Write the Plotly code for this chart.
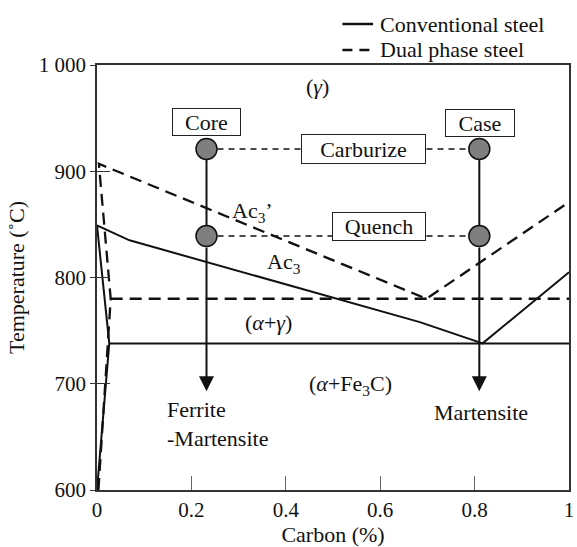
import plotly.graph_objects as go

# ---------------- data ----------------
# Conventional steel (solid): A3 / solvus polyline incl. left alpha boundary
conv_x = [0.0, 0.026, 0.0, 0.069, 0.684, 0.817, 1.0]
conv_y = [600, 738, 849, 835, 758, 738, 805]
# Conventional eutectoid horizontal
conv_eut_x = [0.026, 1.0]
conv_eut_y = [738, 738]

# Dual phase steel (dashed): Ac3' polyline incl. left boundary
dual_x = [0.003, 0.022, 0.029, 0.004, 0.698, 1.0]
dual_y = [600, 738, 780, 907, 780, 871]
# Dual phase horizontal
dual_eut_x = [0.029, 1.0]
dual_eut_y = [780, 780]

# Process points
core_x = 0.232
case_x = 0.81
carburize_T = 921
quench_T = 839
end_T = 693

# Text labels (x, y, text)
region_labels = [
    (0.467, 980, "(<i>γ</i>)"),
    (0.329, 862, "Ac<sub>3</sub>’"),
    (0.396, 814, "Ac<sub>3</sub>"),
    (0.363, 758, "(<i>α</i>+<i>γ</i>)"),
    (0.537, 699, "(<i>α</i>+Fe<sub>3</sub>C)"),
    (0.813, 673, "Martensite"),
]
left_labels = [
    (0.143, 662.5, "Ferrite<br>-Martensite"),
]
box_labels = [
    (0.232, 946, "Core", 63, 22),
    (0.812, 945, "Case", 64, 22),
    (0.565, 921, "Carburize", 119, 24),
    (0.598, 848, "Quench", 88, 23),
]
legend_names = ["Conventional steel", "Dual phase steel"]
legend_dash = ["solid", "10px,7px"]

FONT = "Liberation Serif"

fig = go.Figure()

# main lines
fig.add_trace(go.Scatter(x=conv_x, y=conv_y, mode="lines", name=legend_names[0],
                         line=dict(color="#111", width=2), showlegend=False))
fig.add_trace(go.Scatter(x=conv_eut_x, y=conv_eut_y, mode="lines",
                         line=dict(color="#111", width=2), showlegend=False))
fig.add_trace(go.Scatter(x=dual_x, y=dual_y, mode="lines", name=legend_names[1],
                         line=dict(color="#111", width=2.3, dash="12px,7px"), showlegend=False))
fig.add_trace(go.Scatter(x=dual_eut_x, y=dual_eut_y, mode="lines",
                         line=dict(color="#111", width=2.3, dash="12px,7px"), showlegend=False))

# process dotted lines
for T in (carburize_T, quench_T):
    fig.add_trace(go.Scatter(x=[core_x, case_x], y=[T, T], mode="lines",
                             line=dict(color="#111", width=1.6, dash="6px,5px"),
                             showlegend=False, hoverinfo="skip"))
# vertical segments between circles
for cx in (core_x, case_x):
    fig.add_trace(go.Scatter(x=[cx, cx], y=[carburize_T, quench_T], mode="lines",
                             line=dict(color="#111", width=2), showlegend=False))
# circles
fig.add_trace(go.Scatter(x=[core_x, core_x, case_x, case_x],
                         y=[carburize_T, quench_T, carburize_T, quench_T],
                         mode="markers",
                         marker=dict(size=21, color="#7f7f7f", line=dict(color="#111", width=1.5)),
                         showlegend=False))
# dummy trace for overlay axis
fig.add_trace(go.Scatter(x=[None], y=[None], yaxis="y2", showlegend=False))

ann = []
for cx in (core_x, case_x):
    ann.append(dict(x=cx, y=end_T, ax=cx, ay=quench_T, xref="x", yref="y",
                    axref="x", ayref="y", showarrow=True, arrowhead=2,
                    arrowwidth=2, arrowsize=1.5, arrowcolor="#111",
                    startstandoff=10, text=""))
for x, y, t in region_labels:
    ann.append(dict(x=x, y=y, text=t, showarrow=False, xref="x", yref="y",
                    font=dict(family=FONT, size=22, color="#111")))
for x, y, t in left_labels:
    ann.append(dict(x=x, y=y, text=t, showarrow=False, xref="x", yref="y",
                    xanchor="left", align="left",
                    font=dict(family=FONT, size=22, color="#111")))
for x, y, t, w, h in box_labels:
    ann.append(dict(x=x, y=y, text=t, showarrow=False, xref="x", yref="y",
                    width=w, height=h, bgcolor="white", bordercolor="#222",
                    borderwidth=1, borderpad=2,
                    font=dict(family=FONT, size=22, color="#111")))

# legend built from shapes + text (paper coordinates)
shapes = []
legend_rows_px = [24, 50]   # pixel rows from top of figure
plot_top, plot_h = 65, 425
plot_left, plot_w = 97, 477
for name, dash, row in zip(legend_names, legend_dash, legend_rows_px):
    yp = 1 + (plot_top - row) / plot_h
    shapes.append(dict(type="line", xref="paper", yref="paper",
                       x0=(345 - plot_left) / plot_w, x1=(376 - plot_left) / plot_w,
                       y0=yp, y1=yp, line=dict(color="#111", width=2.5, dash=dash)))
    ann.append(dict(x=(381 - plot_left) / plot_w, y=yp, xref="paper", yref="paper",
                    xanchor="left", yanchor="middle", text=name, showarrow=False,
                    font=dict(family=FONT, size=22, color="#111")))

x_ticks = [0, 0.2, 0.4, 0.6, 0.8, 1]
x_ticktext = ["0", "0.2", "0.4", "0.6", "0.8", "1"]
y_ticks = [600, 700, 800, 900, 1000]
y_ticktext = ["600", "700", "800", "900", "1 000"]

fig.update_layout(
    width=577, height=547,
    margin=dict(l=97, r=3, t=65, b=57),
    paper_bgcolor="white", plot_bgcolor="white",
    font=dict(family=FONT, size=22, color="#111"),
    annotations=ann,
    shapes=shapes,
    showlegend=False,
    xaxis=dict(range=[0, 1], tickvals=x_ticks, ticktext=x_ticktext,
               ticks="inside", ticklen=14, tickcolor="#666", tickwidth=1.2,
               showline=True, linecolor="#333", linewidth=1.5, mirror=True,
               showgrid=False, zeroline=False, ticklabeloverflow="allow",
               tickfont=dict(family=FONT, size=21, color="#111"),
               title=dict(text="Carbon (%)", font=dict(family=FONT, size=22), standoff=6)),
    yaxis=dict(range=[600, 1000], tickvals=y_ticks, ticktext=y_ticktext,
               ticks="outside", ticklen=5, tickcolor="#333", tickwidth=1.2,
               showline=True, linecolor="#333", linewidth=1.5, mirror=True,
               showgrid=False, zeroline=False,
               tickfont=dict(family=FONT, size=21, color="#111"),
               title=dict(text="Temperature (˚C)", font=dict(family=FONT, size=22), standoff=8)),
    yaxis2=dict(range=[600, 1000], overlaying="y", side="left", tickvals=y_ticks,
                ticks="inside", ticklen=13, tickcolor="#333", tickwidth=1.2,
                showticklabels=False, showgrid=False, zeroline=False, showline=False),
)

fig.write_html("out.html")
